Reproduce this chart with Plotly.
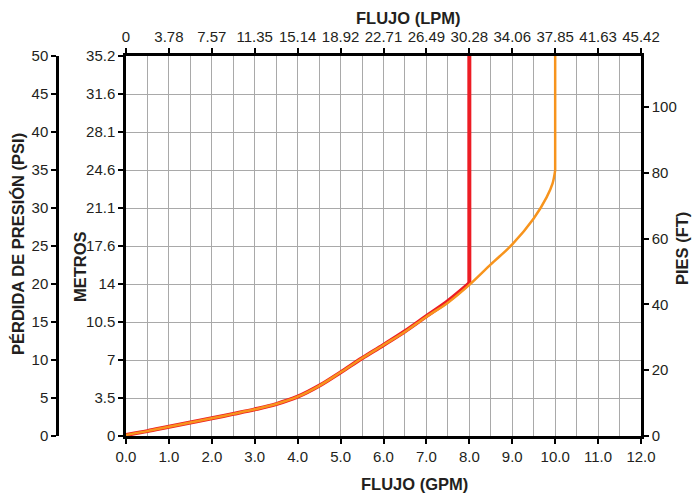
import plotly.graph_objects as go

# ---- data ----
gpm_ticks = [0, 1, 2, 3, 4, 5, 6, 7, 8, 9, 10, 11, 12]
gpm_labels = ["0.0", "1.0", "2.0", "3.0", "4.0", "5.0", "6.0", "7.0", "8.0", "9.0", "10.0", "11.0", "12.0"]
lpm_labels = ["0", "3.78", "7.57", "11.35", "15.14", "18.92", "22.71", "26.49", "30.28", "34.06", "37.85", "41.63", "45.42"]
psi_ticks = [0, 5, 10, 15, 20, 25, 30, 35, 40, 45, 50]
metros_labels = ["0", "3.5", "7", "10.5", "14", "17.6", "21.1", "24.6", "28.1", "31.6", "35.2"]
ft_ticks = [0, 20, 40, 60, 80, 100]

orange_curve_gpm = [0, 0.5, 1, 1.5, 2, 2.5, 3, 3.5, 4, 4.5, 5, 5.5, 6, 6.5, 7, 7.5, 8, 8.5, 9, 9.5, 9.8, 9.94, 10]
orange_curve_m = [0.1, 0.45, 0.86, 1.25, 1.64, 2.05, 2.47, 2.96, 3.64, 4.65, 5.9, 7.2, 8.43, 9.66, 11.05, 12.35, 14.0, 15.9, 17.75, 20.15, 22.1, 23.4, 24.6]
orange_vert_gpm = [10, 10]
orange_vert_m = [24.6, 35.2]
red_curve_gpm = [0, 0.5, 1, 1.5, 2, 2.5, 3, 3.5, 4, 4.5, 5, 5.5, 6, 6.5, 7, 7.5, 8]
red_curve_m = [0.1, 0.45, 0.86, 1.25, 1.64, 2.05, 2.47, 2.96, 3.64, 4.65, 5.9, 7.2, 8.43, 9.7, 11.1, 12.5, 14.15]
red_vert_gpm = [8, 8]
red_vert_m = [14.15, 35.2]

M_MAX = 35.2
PSI_MAX = 50
FT_MAX = 115.5
LPM_PER_GPM = 3.785

W, H = 693, 494
FONT = "Liberation Sans Narrow, Arial Narrow, Liberation Sans, Arial, sans-serif"
TXT = "#231f20"
GRID = "#a9a9a9"
RED = "#ed1c24"
ORANGE = "#f7941d"

def px(x):
    return x / W

def py(y):
    return 1 - y / H

x_dom = [px(126), px(641)]
y_dom = [py(436), py(56)]

fig = go.Figure()
fig.add_trace(go.Scatter(x=red_curve_gpm, y=red_curve_m, mode="lines",
                         line=dict(color=RED, width=4, shape="spline", smoothing=1), showlegend=False))
fig.add_trace(go.Scatter(x=red_vert_gpm, y=red_vert_m, mode="lines",
                         line=dict(color=RED, width=4), showlegend=False))
fig.add_trace(go.Scatter(x=orange_curve_gpm, y=orange_curve_m, mode="lines",
                         line=dict(color=ORANGE, width=2.5, shape="spline", smoothing=1), showlegend=False))
fig.add_trace(go.Scatter(x=orange_vert_gpm, y=orange_vert_m, mode="lines",
                         line=dict(color=ORANGE, width=2.5), showlegend=False))

axis_common = dict(showline=True, linecolor="black", linewidth=2.5, ticks="outside",
                   ticklen=5, tickwidth=1.5, tickcolor="black", tickangle=0, automargin=False,
                   tickfont=dict(family=FONT, size=15, color=TXT), zeroline=False)

fig.update_layout(
    width=W, height=H,
    margin=dict(l=0, r=0, t=0, b=0, pad=0, autoexpand=False),
    paper_bgcolor="white", plot_bgcolor="white",
    hovermode=False,
    xaxis=dict(domain=x_dom, range=[0, 12], tickvals=gpm_ticks, ticktext=gpm_labels,
               showgrid=True, gridcolor=GRID, gridwidth=1.2,
               minor=dict(dtick=0.5, showgrid=True, gridcolor=GRID, gridwidth=1.2, ticks=""),
               anchor="y", **axis_common),
    xaxis2=dict(domain=x_dom, range=[0, 12 * LPM_PER_GPM],
                tickvals=[g * LPM_PER_GPM for g in gpm_ticks], ticktext=lpm_labels,
                overlaying="x", side="top", anchor="y", showgrid=False, **axis_common),
    yaxis=dict(domain=y_dom, range=[0, M_MAX],
               tickvals=[p * M_MAX / PSI_MAX for p in psi_ticks], ticktext=metros_labels,
               showgrid=True, gridcolor=GRID, gridwidth=1.2, anchor="x", **axis_common),
    yaxis2=dict(domain=y_dom, range=[0, FT_MAX], tickvals=ft_ticks,
                overlaying="y", side="right", anchor="x", showgrid=False, **axis_common),
    yaxis3=dict(domain=y_dom, range=[0, PSI_MAX], tickvals=psi_ticks,
                overlaying="y", side="left", anchor="free", position=px(57),
                showgrid=False, **axis_common),
)

fig.add_trace(go.Scatter(x=[None], y=[None], xaxis="x2", yaxis="y2", showlegend=False))
fig.add_trace(go.Scatter(x=[None], y=[None], xaxis="x", yaxis="y3", showlegend=False))

def title(text, x, y, angle=0):
    fig.add_annotation(text=f"<b>{text}</b>", x=px(x), y=py(y), xref="paper", yref="paper",
                       showarrow=False, textangle=angle, xanchor="center", yanchor="middle",
                       font=dict(family=FONT, size=16.5, color=TXT))

title("FLUJO (LPM)", 408, 18)
title("FLUJO (GPM)", 414, 484)
title("PÉRDIDA DE PRESIÓN (PSI)", 18, 244, -90)
title("METROS", 80, 267, -90)
title("PIES (FT)", 682, 249, -90)

fig.write_html("out.html", config={"displayModeBar": False},
               post_script="document.body.style.margin='0';document.body.style.overflow='hidden';")
